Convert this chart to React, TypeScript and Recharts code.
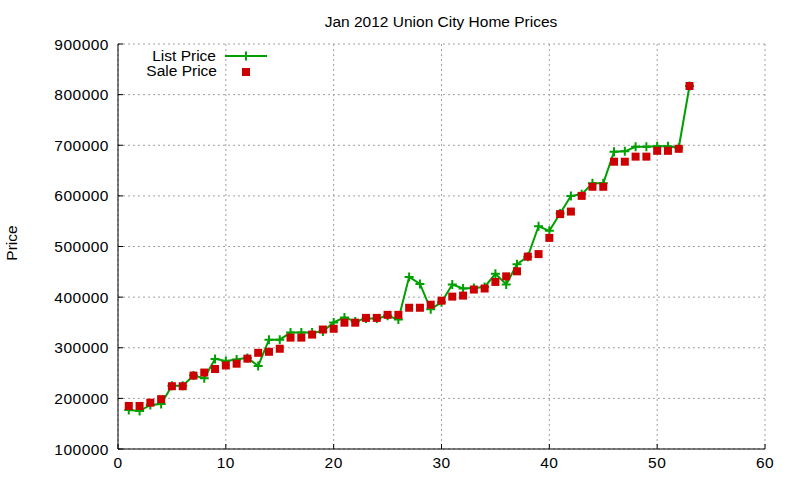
import React from 'react';
import {
  ComposedChart,
  Line,
  Scatter,
  XAxis,
  YAxis,
  CartesianGrid,
} from 'recharts';

// list and sale prices, one entry per home (home number = position + 1)
const listPrice = [
  177000, 175000, 187000, 189000, 225000, 225000, 245000, 240000, 278000, 274000,
  277000, 280000, 264000, 316000, 316000, 330000, 330000, 330000, 332000, 350000,
  360000, 352000, 358000, 358000, 363000, 356000, 440000, 426000, 376000, 390000,
  425000, 417000, 418000, 420000, 446000, 425000, 465000, 480000, 540000, 531000,
  565000, 600000, 603000, 625000, 625000, 687000, 688000, 697000, 697000, 698000,
  698000, 695000, 817000,
];
const salePrice = [
  185000, 185000, 191500, 198500, 224000, 224000, 245000, 251000, 258000, 265000,
  268500, 278500, 290000, 292000, 298000, 320000, 320000, 326000, 336000, 337500,
  349500, 349500, 359000, 359000, 365000, 365000, 379000, 379000, 385000, 393000,
  401000, 403000, 415000, 417000, 430000, 441000, 451000, 480000, 485000, 517000,
  564000, 569000, 600000, 618000, 618000, 667500, 667500, 677500, 677500, 689000,
  689000, 693000, 817000,
];
const xTicks = [0, 10, 20, 30, 40, 50, 60];
const yTicks = [100000, 200000, 300000, 400000, 500000, 600000, 700000, 800000, 900000];

const rows = listPrice.map((v, i) => ({ n: i + 1, list: v, sale: salePrice[i] }));

const GREEN = '#00a000';
const RED = '#cc0000';
const FONT = '"Liberation Sans", Arial, sans-serif';
const tickStyle = { fill: '#000', fontSize: 15.5, fontFamily: FONT, letterSpacing: 0.5 };

const PlusDot = (props: any) => {
  const { cx, cy, index } = props;
  if (cx == null || cy == null) return <g key={index} />;
  return (
    <path
      key={index}
      d={`M${cx - 4.5},${cy}H${cx + 4.5}M${cx},${cy - 4.5}V${cy + 4.5}`}
      stroke={GREEN}
      strokeWidth={2}
      fill="none"
    />
  );
};

const SquareDot = (props: any) => {
  const { cx, cy } = props;
  return <rect x={cx - 4} y={cy - 4} width={8} height={8} fill={RED} />;
};

const noLabel = () => <g />;

export default function App() {
  return (
    <div style={{ position: 'relative', width: 800, height: 480, background: '#fff' }}>
      <style>{`body{margin:0}`}</style>
      <ComposedChart
        width={800}
        height={480}
        data={rows}
        margin={{ top: 44, right: 35, bottom: 0, left: 0 }}
      >
        <CartesianGrid stroke="#a0a0a0" strokeDasharray="2 3" />
        <XAxis
          type="number"
          dataKey="n"
          domain={[0, 60]}
          ticks={xTicks}
          interval={0}
          height={31}
          tickSize={-5}
          tickMargin={13}
          axisLine={{ stroke: '#000', strokeWidth: 1 }}
          tickLine={{ stroke: '#000' }}
          tick={tickStyle}
        />
        <XAxis
          xAxisId="top"
          orientation="top"
          type="number"
          dataKey="n"
          domain={[0, 60]}
          ticks={xTicks}
          interval={0}
          height={0}
          tickSize={-5}
          axisLine={{ stroke: '#000', strokeWidth: 1 }}
          tickLine={{ stroke: '#000' }}
          tick={noLabel}
        />
        <YAxis
          type="number"
          domain={[100000, 900000]}
          ticks={yTicks}
          interval={0}
          width={118}
          tickSize={-5}
          tickMargin={14}
          axisLine={{ stroke: '#000', strokeWidth: 1 }}
          tickLine={{ stroke: '#000' }}
          tick={tickStyle}
        />
        <YAxis
          yAxisId="right"
          orientation="right"
          type="number"
          domain={[100000, 900000]}
          ticks={yTicks}
          interval={0}
          width={0}
          tickSize={-5}
          axisLine={{ stroke: '#000', strokeWidth: 1 }}
          tickLine={{ stroke: '#000' }}
          tick={noLabel}
        />
        <Line
          type="linear"
          dataKey="list"
          stroke={GREEN}
          strokeWidth={2}
          dot={PlusDot}
          activeDot={false}
          isAnimationActive={false}
        />
        <Scatter dataKey="sale" fill={RED} shape={SquareDot} isAnimationActive={false} />
      </ComposedChart>
      <svg
        width={800}
        height={480}
        style={{ position: 'absolute', left: 0, top: 0, pointerEvents: 'none' }}
        fontFamily={FONT}
        fontSize={15.5}
      >
        <text x={441} y={26.5} textAnchor="middle" fill="#000">
          Jan 2012 Union City Home Prices
        </text>
        <text x={16.5} y={243} textAnchor="middle" fill="#000" transform="rotate(-90 16.5 243)">
          Price
        </text>
        <text x={216} y={60.5} textAnchor="end" fill="#000">List Price</text>
        <path d="M225,56H267M246,51.5V60.5" stroke={GREEN} strokeWidth={2} fill="none" />
        <text x={217} y={76} textAnchor="end" fill="#000">Sale Price</text>
        <rect x={242} y={68} width={8} height={8} fill={RED} />
      </svg>
    </div>
  );
}
